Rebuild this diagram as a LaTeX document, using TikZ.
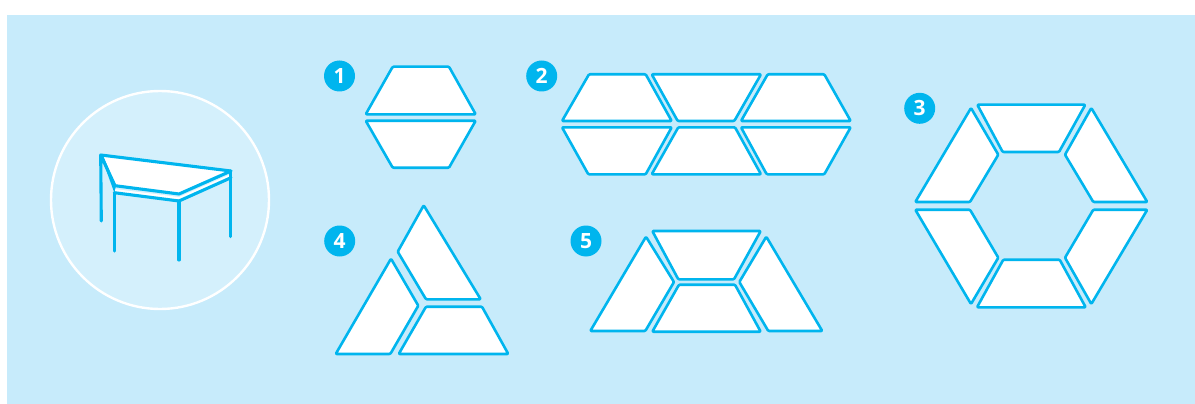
\documentclass[tikz,border=0pt]{standalone}
\usepackage{fontspec}
\setmainfont{Open Sans}
\definecolor{skyblue}{HTML}{00B5EE}
\definecolor{panelblue}{HTML}{C7EBFB}
\definecolor{discblue}{HTML}{D4F0FC}
\tikzset{
  tile/.style={draw=skyblue,fill=white,line width=2.6pt,rounded corners=1pt,line join=round},
  frame/.style={draw=skyblue,line width=3.1pt,line cap=round,line join=round},
  badge/.style={circle,fill=skyblue,text=white,minimum size=31pt,inner sep=0pt,font=\fontsize{21}{21}\selectfont\bfseries}
}
\begin{document}
\begin{tikzpicture}[x=1pt,y=-1pt]
\useasboundingbox (0,0) rectangle (1195,404);
\fill[panelblue] (7,15) rectangle (1195,404);
% table
\draw[white,fill=discblue,line width=2.4pt] (160,200) circle (109);
\fill[white] (100.7,155) -- (231,171) -- (179,194) -- (115,185.7) -- cycle;
\fill[white] (114.3,189) -- (179,197) -- (231,174) -- (231,177.7) -- (179,201) -- (114.3,192.7) -- cycle;
\fill[skyblue] (100.7,155) -- (103,155.5) -- (116,186) -- (114.3,192.7) -- cycle;
\draw[frame] (101.3,221) -- (100.7,155) -- (231,171) -- (179,194) -- (115,185.7) -- (100.7,155);
\draw[frame] (114.3,192.7) -- (179,201) -- (231,177.7);
\foreach \x/\ya/\yb in {114.3/192.7/251,179/201/260,230.7/171/236.7}{\draw[frame] (\x,\ya) -- (\x,\yb);}
% group 1
\foreach \xa/\ya/\xb/\yb/\xc/\yc/\xd/\yd in {
  392.7/66.7/449/66.7/475.7/114.3/365.7/114.3,
  365.7/120.7/475.7/120.7/449/167.7/392.7/167.7}{
  \draw[tile] (\xa,\ya) -- (\xb,\yb) -- (\xc,\yc) -- (\xd,\yd) -- cycle;}
% group 2
\foreach \xa/\ya/\xb/\yb/\xc/\yc/\xd/\yd in {
  589/74.3/645.7/74.3/671.7/121/562/121,
  651.7/74.3/761/74.3/734.3/121/677.7/121,
  767.7/74.3/824.3/74.3/850.7/121/741/121,
  562/127.3/671.7/127.3/645.7/174.3/588.3/174.3,
  678.3/127.3/735/127.3/761/174.3/651.7/174.3,
  741/127.3/850.7/127.3/824.3/174.3/766.7/174.3}{
  \draw[tile] (\xa,\ya) -- (\xb,\yb) -- (\xc,\yc) -- (\xd,\yd) -- cycle;}
% group 3
\foreach \xa/\ya/\xb/\yb/\xc/\yc/\xd/\yd in {
  977.3/104.7/1085.3/104.7/1059/152/1002.7/152,
  971/108/998.3/154.7/970/202/915.3/202,
  1091.3/108/1147.3/202/1093.3/202/1065/154.7,
  915.3/209.7/970/209.7/998.3/257.7/971/304,
  1093.3/209.7/1147.3/209.7/1091.3/304/1065/257.7,
  1003.3/259.7/1059.7/259.7/1085.7/307.3/977/307.3}{
  \draw[tile] (\xa,\ya) -- (\xb,\yb) -- (\xc,\yc) -- (\xd,\yd) -- cycle;}
% group 4
\foreach \xa/\ya/\xb/\yb/\xc/\yc/\xd/\yd in {
  423.7/205.3/480.7/299.3/426/299.3/397.7/251.7,
  391/258.7/418.3/305.7/390.3/354/335.7/354,
  426/306.7/482/306.7/508.3/354/398.7/354}{
  \draw[tile] (\xa,\ya) -- (\xb,\yb) -- (\xc,\yc) -- (\xd,\yd) -- cycle;}
% group 5
\foreach \xa/\ya/\xb/\yb/\xc/\yc/\xd/\yd in {
  652.3/231/760.7/231/734/279.3/678.3/279.3,
  679/284.7/735/284.7/760.7/331.7/652.3/331.7,
  646/236.7/674/282/645.3/331/590.3/331,
  766.3/236.7/822.3/331/768.3/331/739.3/282}{
  \draw[tile] (\xa,\ya) -- (\xb,\yb) -- (\xc,\yc) -- (\xd,\yd) -- cycle;}
% numbers
\node[badge] (one) at (339.5,76) {1};
\node[badge] (two) at (541.7,76) {2};
\node[badge] (three) at (919.7,108.3) {3};
\node[badge] (four) at (339.7,241) {4};
\node[badge] (five) at (586,241) {5};
\end{tikzpicture}
\end{document}
